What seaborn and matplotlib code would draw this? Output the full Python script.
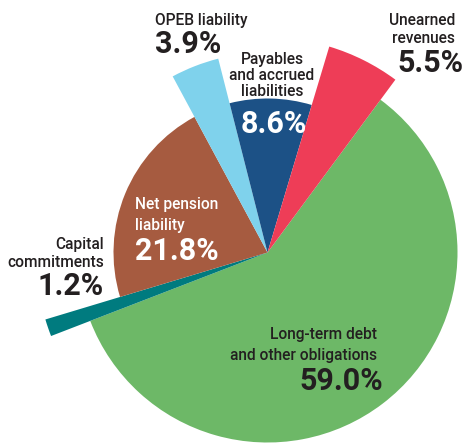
import matplotlib
matplotlib.use("Agg")
import matplotlib.pyplot as plt
import seaborn as sns

# ---- data ----
categories = ["Long-term debt and other obligations", "Capital commitments",
              "Net pension liability", "OPEB liability",
              "Payables and accrued liabilities", "Unearned revenues"]
label_lines = [["Long-term debt", "and other obligations"],
               ["Capital", "commitments"],
               ["Net pension", "liability"],
               ["OPEB liability"],
               ["Payables", "and accrued", "liabilities"],
               ["Unearned", "revenues"]]
shares = [59.0, 1.2, 21.8, 3.9, 8.6, 5.5]

# ---- style ----
colors = ["#6DB867", "#007B7F", "#A65B40", "#7FD2EC", "#1C5186", "#EE3D57"]
radii = [190, 232, 154, 200, 154, 215]
W, H = 469, 443
center_px = (267.5, 252.5)
dark = "#231F20"
# (anchor ha, x, [line baselines], pct x, pct baseline, color)
layout = [
    ("right", 377, [339, 360], 383, 390, dark),
    ("right", 104, [249, 267], 104, 295, dark),
    ("left", 135, [209, 230], 135, 260, "white"),
    ("left", 155, [25], 155, 53, dark),
    ("center", 272, [64, 80, 96], 274, 133, "white"),
    ("right", 455, [25, 43], 463, 72, dark),
]

sns.set_theme(style="white")
plt.rcParams['font.family'] = ['Roboto', 'DejaVu Sans']

fig = plt.figure(figsize=(W / 100, H / 100), dpi=100)
ax = fig.add_axes([0, 0, 1, 1])
wedges, _ = ax.pie(shares, colors=colors, startangle=53.5, counterclock=False,
                   center=(center_px[0], H - center_px[1]), radius=190,
                   wedgeprops=dict(linewidth=0))
for w, r in zip(wedges, radii):
    w.set_radius(r)

for i, (lines, v) in enumerate(zip(label_lines, shares)):
    ha, x, ys, px, py, col = layout[i]
    for line, y in zip(lines, ys):
        ax.text(x, H - y, line, ha=ha, va="baseline", fontsize=11.2,
                fontweight="medium", color=dark if i != 2 else "white")
    ax.text(px, H - py, f"{v:.1f}%", ha=ha, va="baseline", fontsize=22,
            fontweight="bold", color=col)

ax.set_xlim(0, W)
ax.set_ylim(0, H)
ax.set_aspect("equal")
ax.axis("off")
fig.savefig("out.png", dpi=100, facecolor="white")
